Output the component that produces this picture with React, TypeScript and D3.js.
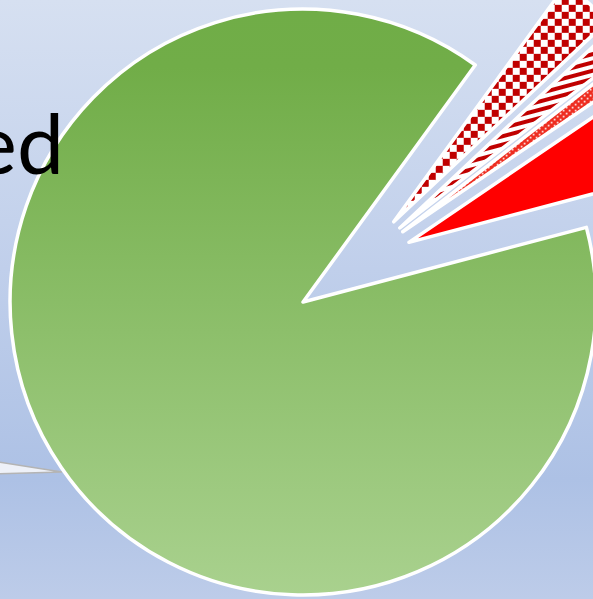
import React from 'react';
import * as d3 from 'd3';

// ---- data ----
const categories: string[] = ['Checker', 'Stripes', 'Dots', 'Red', 'Treated'];
const values: number[] = [3.0, 1.5, 1.0, 5.4, 89.1];
const fills: string[] = ['url(#pCheck)', 'url(#pStripe)', 'url(#pDots)', '#ff0000', 'url(#gGreen)'];
const labelText = 'Treated';

const W = 593;
const H = 599;

export default function App() {
  const cx = 353.4;
  const cy = 267.6;
  const r = 293;
  const explode = 61;
  const start = (36 * Math.PI) / 180;

  const pie = d3
    .pie<number>()
    .sort(null)
    .value((d) => d)
    .startAngle(start)
    .endAngle(start + 2 * Math.PI);
  const arcs = pie(values);
  const arc = d3.arc<d3.PieArcDatum<number>>().innerRadius(0).outerRadius(r);

  React.useEffect(() => {
    document.body.style.margin = '0';
  }, []);

  return (
    <div style={{ position: 'fixed', left: 0, top: 0, width: W, height: H }}>
      <svg width={W} height={H} viewBox={`0 0 ${W} ${H}`} style={{ display: 'block' }}>
        <defs>
          <linearGradient id="gBg" x1="0" y1="0" x2="0" y2="1">
            <stop offset="0" stopColor="#d6e0f1" />
            <stop offset="0.45" stopColor="#c0cfeb" />
            <stop offset="0.8" stopColor="#adc1e5" />
            <stop offset="1" stopColor="#bdcce9" />
          </linearGradient>
          <linearGradient id="gGreen" x1="0" y1="0" x2="0" y2="1">
            <stop offset="0" stopColor="#70ad47" />
            <stop offset="0.1" stopColor="#71ad48" />
            <stop offset="1" stopColor="#a9d18e" />
          </linearGradient>
          <pattern id="pCheck" patternUnits="userSpaceOnUse" width="14" height="14">
            <rect width="14" height="14" fill="#ffffff" />
            <rect x="0" y="0" width="7" height="7" fill="#c00000" />
            <rect x="7" y="7" width="7" height="7" fill="#c00000" />
          </pattern>
          <pattern id="pStripe" patternUnits="userSpaceOnUse" width="8" height="8" patternTransform="rotate(-15)">
            <rect width="8" height="8" fill="#ffffff" />
            <rect x="0" y="0" width="8" height="4" fill="#c00000" />
          </pattern>
          <pattern id="pDots" patternUnits="userSpaceOnUse" width="6" height="6">
            <rect width="6" height="6" fill="#ee2d20" />
            <rect x="1" y="1" width="1.6" height="1.6" fill="#ffffff" />
            <rect x="4" y="4" width="1.6" height="1.6" fill="#ffffff" />
          </pattern>
        </defs>
        <rect x={0} y={0} width={W} height={H} fill="url(#gBg)" />

        {/* callout pointer */}
        <polygon points="-40,456 62,472 -40,475" fill="#eef1f8" stroke="#b4b4b4" strokeWidth={1.5} />

        {arcs.map((a, i) => {
          const mid = (a.startAngle + a.endAngle) / 2;
          const dx = explode * Math.sin(mid);
          const dy = -explode * Math.cos(mid);
          return (
            <path
              key={categories[i]}
              d={arc(a) || ''}
              transform={`translate(${cx + dx},${cy + dy})`}
              fill={fills[i]}
              stroke="#ffffff"
              strokeWidth={3.5}
              strokeLinejoin="round"
            />
          );
        })}

        <text
          x={64}
          y={174}
          textAnchor="end"
          fontFamily="Lato, 'Open Sans', sans-serif"
          fontSize={84}
          fill="#000000"
        >
          {labelText}
        </text>
      </svg>
    </div>
  );
}
